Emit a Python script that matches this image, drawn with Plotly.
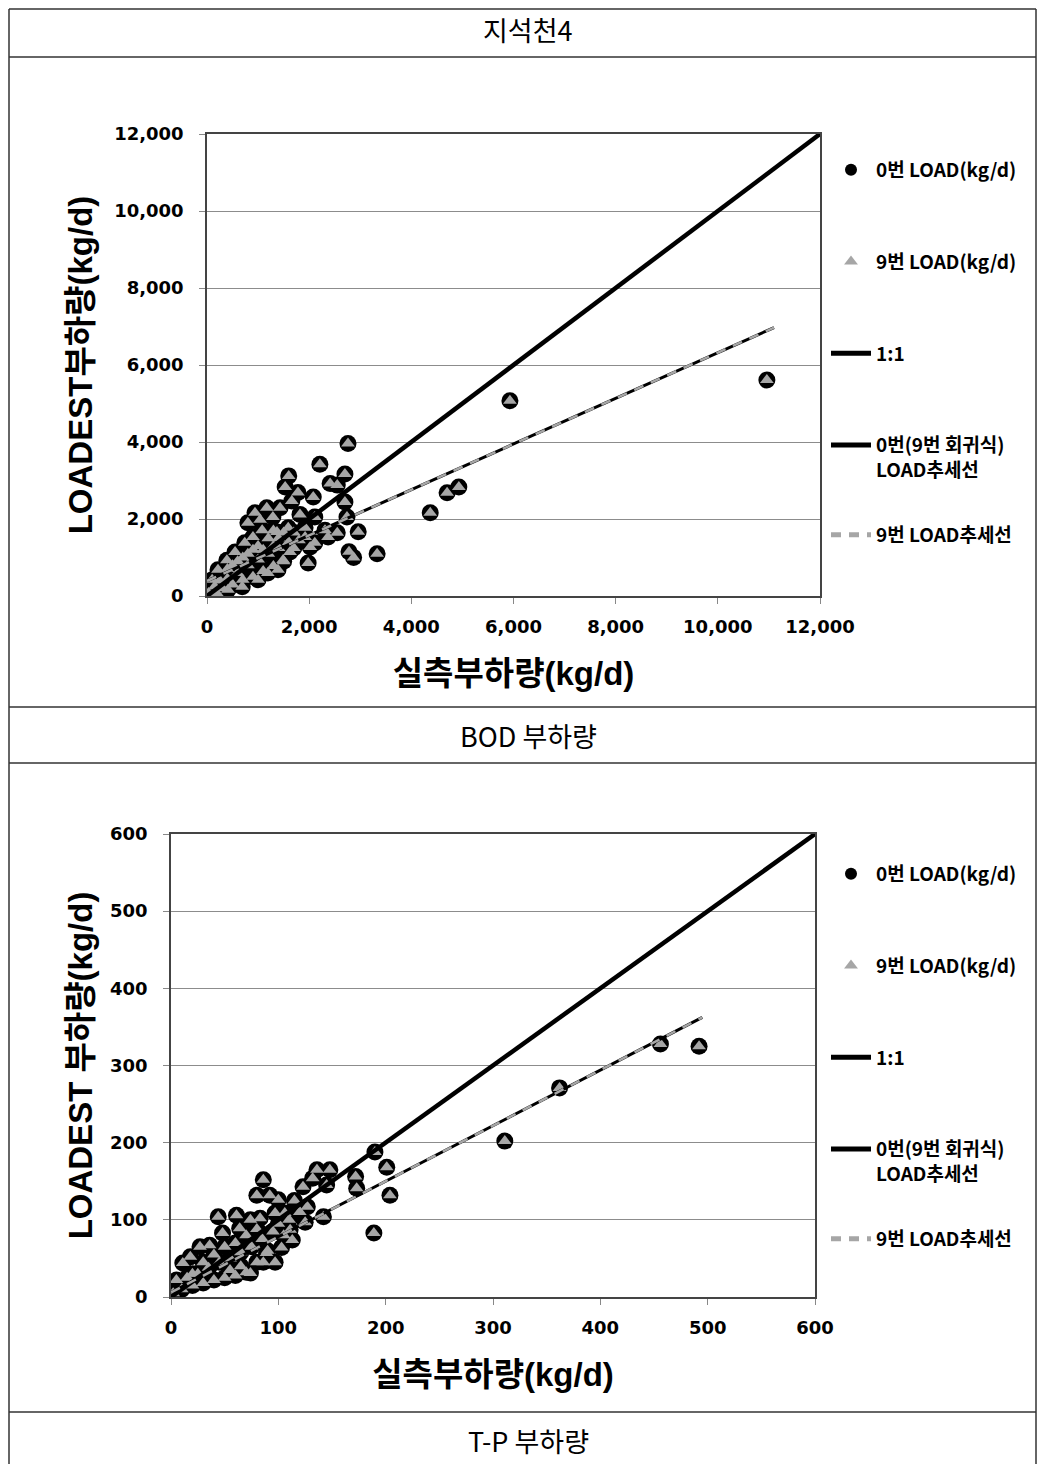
import plotly.graph_objects as go

# ---------------- data ----------------
bod_obs = [10960, 5930, 4930, 4700, 4370, 3330, 2760, 2700, 2210, 2410, 2550, 2700, 2740, 2960,
           2550, 2310, 2780, 2870, 1980, 1600, 1530, 1780, 2080, 1660, 1820, 2110, 1590, 1920,
           1370, 940, 1170, 1430, 800, 1040, 1290, 1080, 900, 740, 550, 390, 215, 100, 30,
           2110, 1920, 2370, 2020, 1625, 1490, 1390, 1190, 1000, 690, 410, 200,
           300, 500, 700, 900, 1100, 1300, 1500, 400, 600, 800, 1000, 1200, 1400, 600, 800,
           1000, 1200, 1400, 400, 250, 150, 1600, 1700, 1800, 1100, 700, 500, 1300, 900, 1500,
           1700, 1300]
bod_est0 = [5610, 5070, 2830, 2680, 2160, 1100, 3960, 3170, 3420, 2920, 2880, 2440, 2050, 1670,
            1640, 1710, 1150, 1000, 860, 3120, 2830, 2690, 2570, 2470, 2120, 2050, 1770, 1770,
            1660, 2160, 2290, 2290, 1900, 1980, 2050, 1710, 1530, 1380, 1140, 930, 680, 420, 80,
            1380, 1530, 1530, 1270, 1140, 935, 680, 600, 420, 240, 160, 60,
            200, 300, 420, 500, 650, 780, 900, 450, 600, 800, 950, 1100, 1250, 900, 1100,
            1300, 1500, 1500, 700, 400, 250, 1400, 1250, 1450, 1200, 1000, 800, 1300, 1200, 1650,
            1650, 1700]
bod_est9 = list(bod_est0)

tp_obs = [492, 456, 362, 311, 201, 204, 189, 190, 172, 173, 136, 148, 132, 145, 123, 142, 127, 125,
          86, 80, 92, 100, 44, 61, 74, 83, 97, 106, 111, 113, 103, 89, 86, 97, 48, 64, 27, 36, 18,
          11, 5, 2,
          10, 20, 30, 40, 50, 60, 70, 74, 15, 25, 35, 45, 55, 65, 75, 85, 95, 60, 70, 80, 40, 30,
          50, 100, 105, 90, 80, 65, 55, 20, 110, 120, 115]
tp_est0 = [325, 328, 271, 202, 168, 132, 83, 188, 156, 141, 165, 165, 154, 145, 143, 104, 117, 97,
           152, 132, 132, 126, 104, 106, 100, 102, 109, 109, 87, 74, 64, 57, 45, 45, 83, 89, 65, 67,
           52, 44, 22, 5,
           10, 15, 18, 22, 25, 28, 32, 31, 25, 30, 38, 45, 50, 58, 65, 75, 85, 70, 80, 88, 55, 45,
           65, 95, 80, 60, 45, 40, 35, 30, 100, 110, 125]
tp_est9 = list(tp_est0)

bod_one = [0, 12000]
tp_one = [0, 600]
bod_trend_x = [0, 11100]
bod_trend_slope, bod_trend_icpt = 0.593, 390
tp_trend_x = [0, 495]
tp_trend_slope, tp_trend_icpt = 0.72, 6

bod_ticks = [0, 2000, 4000, 6000, 8000, 10000, 12000]
tp_ticks = [0, 100, 200, 300, 400, 500, 600]

names = ["0번 LOAD(kg/d)", "9번 LOAD(kg/d)", "1:1", "0번(9번 회귀식)<br>LOAD추세선", "9번 LOAD추세선"]
row_titles = ["지석천4", "BOD 부하량", "T-P 부하량"]

# ---------------- figure ----------------
OFF = 8                      # page body margin of the browser
W, H = 1047 - OFF, 1464 - OFF
GRAY = "#a6a6a6"
fig = go.Figure()


def add_panel(xs, y0, y9, one, tx, slope, icpt, xa, ya, lg, lg_last):
    fig.add_trace(go.Scatter(x=xs, y=y0, mode="markers", name=names[0], xaxis=xa, yaxis=ya,
                             legend=lg, legendgroup=lg + "a",
                             marker=dict(symbol="circle", size=17, color="black")))
    fig.add_trace(go.Scatter(x=xs, y=y9, mode="markers", name=names[1], xaxis=xa, yaxis=ya,
                             legend=lg, legendgroup=lg + "b",
                             marker=dict(symbol="triangle-up", size=12, color=GRAY)))
    fig.add_trace(go.Scatter(x=one, y=one, mode="lines", name=names[2], xaxis=xa, yaxis=ya,
                             legend=lg, legendgroup=lg + "c",
                             line=dict(color="black", width=4.5)))
    ty = [slope * v + icpt for v in tx]
    fig.add_trace(go.Scatter(x=tx, y=ty, mode="lines", name=names[3], xaxis=xa, yaxis=ya,
                             legend=lg, legendgroup=lg + "d",
                             line=dict(color="black", width=3)))
    fig.add_trace(go.Scatter(x=tx, y=ty, mode="lines", name=names[4], xaxis=xa, yaxis=ya,
                             legend=lg_last, legendgroup=lg + "e",
                             line=dict(color=GRAY, width=2.5, dash="10px,8px")))


add_panel(bod_obs, bod_est0, bod_est9, bod_one, bod_trend_x, bod_trend_slope, bod_trend_icpt,
          "x", "y", "legend", "legend3")
add_panel(tp_obs, tp_est0, tp_est9, tp_one, tp_trend_x, tp_trend_slope, tp_trend_icpt,
          "x2", "y2", "legend2", "legend4")

tickfont = dict(family="DejaVu Sans, Noto Sans CJK KR", size=18, color="black", weight="bold")
titlefont = dict(family="Liberation Sans, Noto Sans CJK KR", size=33, color="black", weight="bold")
legfont = dict(family="Noto Sans CJK KR", size=19, color="black", weight="bold")


def px_x(p):
    return (p - OFF) / W


def px_y(p):
    return 1 - (p - OFF) / H


def axis_common(ticks, fmt, standoff):
    return dict(tickvals=ticks, tickformat=fmt, tickfont=tickfont, showline=True, linecolor="#444",
                linewidth=1.5, mirror=True, ticks="outside", ticklen=6, tickcolor="#888",
                ticklabelstandoff=standoff, zeroline=False, fixedrange=True)


def legend_at(y_px):
    return dict(x=px_x(826), y=px_y(y_px), xanchor="left", yanchor="top", tracegroupgap=64,
                valign="top", itemsizing="constant", itemwidth=40, bgcolor="rgba(0,0,0,0)",
                font=legfont)


fig.update_layout(
    width=W, height=H, margin=dict(l=0, r=0, t=0, b=0, autoexpand=False),
    paper_bgcolor="white", plot_bgcolor="white", separators=".,",
    xaxis=dict(domain=[px_x(207), px_x(820)], range=[0, 12000], anchor="y", showgrid=False,
               title=dict(text="실측부하량(kg/d)", font=titlefont, standoff=26),
               **axis_common(bod_ticks, ",d", 8)),
    yaxis=dict(domain=[px_y(596), px_y(134)], range=[0, 12000], anchor="x", showgrid=True,
               gridcolor="#8c8c8c", gridwidth=1,
               title=dict(text="LOADEST부하량(kg/d)", font=titlefont, standoff=12),
               **axis_common(bod_ticks, ",d", 12)),
    xaxis2=dict(domain=[px_x(171), px_x(815)], range=[0, 600], anchor="y2", showgrid=False,
                title=dict(text="실측부하량(kg/d)", font=titlefont, standoff=26),
                **axis_common(tp_ticks, "d", 8)),
    yaxis2=dict(domain=[px_y(1297), px_y(834)], range=[0, 600], anchor="x2", showgrid=True,
                gridcolor="#8c8c8c", gridwidth=1,
                title=dict(text="LOADEST 부하량(kg/d)", font=titlefont, standoff=8),
                **axis_common(tp_ticks, "d", 12)),
    legend=legend_at(151),
    legend2=legend_at(855),
    legend3=legend_at(516),
    legend4=legend_at(1220),
)

# table frame lines
line_style = dict(color="#333", width=1.5)
for yy in [9, 57, 707, 763, 1412]:
    fig.add_shape(type="line", xref="paper", yref="paper", x0=px_x(9), x1=px_x(1036),
                  y0=px_y(yy), y1=px_y(yy), line=line_style)
for xx in [9, 1036]:
    fig.add_shape(type="line", xref="paper", yref="paper", x0=px_x(xx), x1=px_x(xx),
                  y0=px_y(9), y1=0, line=line_style)

row_font = dict(family="Noto Sans CJK KR", size=27, color="black")
for txt, yy in zip(row_titles, [30, 735, 1440]):
    fig.add_annotation(text=txt, xref="paper", yref="paper", x=px_x(528), y=px_y(yy),
                       xanchor="center", yanchor="middle", showarrow=False, font=row_font)

fig.write_html("out.html")
